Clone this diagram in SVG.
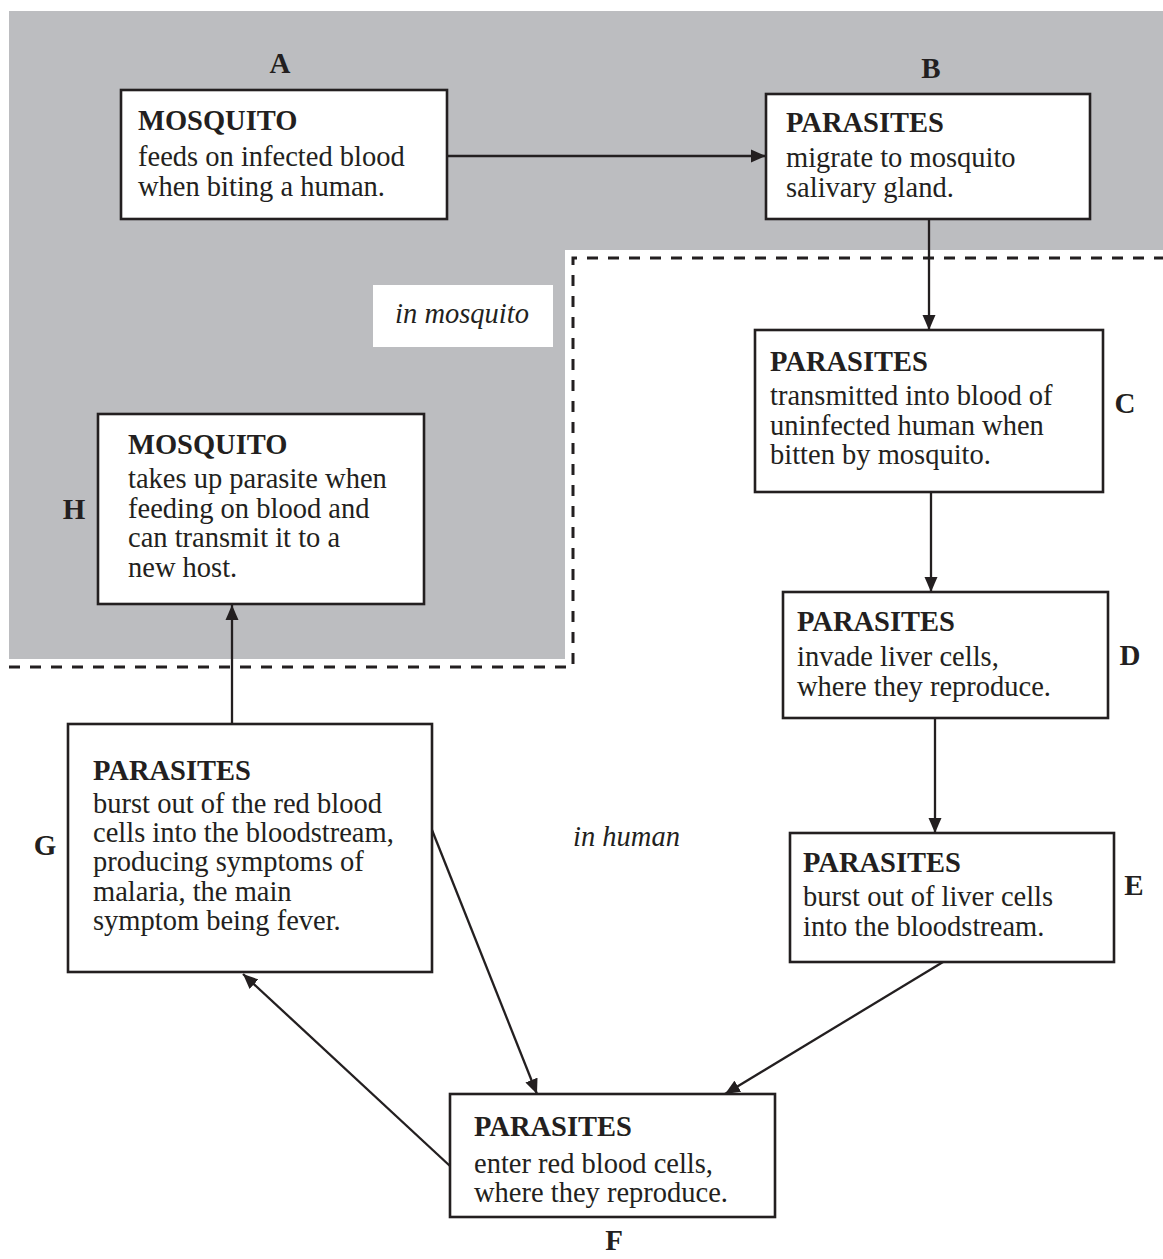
<svg xmlns="http://www.w3.org/2000/svg" width="1163" height="1259" viewBox="0 0 1163 1259">
<defs>
<marker id="arr" markerUnits="userSpaceOnUse" markerWidth="16" markerHeight="14" viewBox="0 0 16 14" refX="15" refY="7" orient="auto">
<path d="M0,0.5 L15,7 L0,13.5 Z" fill="#231f20"/>
</marker>
<style>
.box{fill:#fff;stroke:#231f20;stroke-width:2.6}
.t{font-family:"Liberation Serif","Times New Roman",serif;font-size:28.5px;fill:#231f20}
.b{font-weight:bold}
.i{font-style:italic}
.lab{font-family:"Liberation Serif","Times New Roman",serif;font-size:29px;font-weight:bold;fill:#231f20;text-anchor:middle}
.con{stroke:#231f20;stroke-width:2.3;fill:none;marker-end:url(#arr)}
.dash{stroke:#231f20;stroke-width:3;fill:none;stroke-dasharray:11 10}
</style>
</defs>
<rect width="1163" height="1259" fill="#fff"/>
<g id="regions">
<path d="M9,11 H1163 V250 H565 V659 H9 Z" fill="#bcbdc0"/>
<path class="dash" d="M9,667 H573 V258 H1163"/>
<rect x="373" y="285" width="180" height="62" fill="#fff"/>
<text class="t i" x="462" y="323" text-anchor="middle">in mosquito</text>
<text class="t i" x="573" y="846">in human</text>
</g>
<g id="connectors">
<line class="con" x1="447" y1="156" x2="766" y2="156"/>
<line class="con" x1="929" y1="219" x2="929" y2="330"/>
<line class="con" x1="931" y1="492" x2="931" y2="592"/>
<line class="con" x1="935" y1="718" x2="935" y2="833"/>
<line class="con" x1="943" y1="962" x2="725" y2="1094"/>
<line class="con" x1="432" y1="830" x2="537" y2="1094"/>
<line class="con" x1="450" y1="1166" x2="243" y2="974"/>
<line class="con" x1="232" y1="724" x2="232" y2="605"/>
</g>
<g id="nodeA">
<rect class="box" x="121" y="90" width="326" height="129"/>
<text class="t b" x="138" y="130">MOSQUITO</text>
<text class="t" x="138" y="166">feeds on infected blood</text>
<text class="t" x="138" y="195.5">when biting a human.</text>
<text class="lab" x="280" y="73">A</text>
</g>
<g id="nodeB">
<rect class="box" x="766" y="94" width="324" height="125"/>
<text class="t b" x="786" y="132">PARASITES</text>
<text class="t" x="786" y="167">migrate to mosquito</text>
<text class="t" x="786" y="196.5">salivary gland.</text>
<text class="lab" x="931" y="78">B</text>
</g>
<g id="nodeC">
<rect class="box" x="755" y="330" width="348" height="162"/>
<text class="t b" x="770" y="371">PARASITES</text>
<text class="t" x="770" y="405">transmitted into blood of</text>
<text class="t" x="770" y="434.5">uninfected human when</text>
<text class="t" x="770" y="464">bitten by mosquito.</text>
<text class="lab" x="1125" y="413">C</text>
</g>
<g id="nodeD">
<rect class="box" x="783" y="592" width="325" height="126"/>
<text class="t b" x="797" y="631">PARASITES</text>
<text class="t" x="797" y="666">invade liver cells,</text>
<text class="t" x="797" y="695.5">where they reproduce.</text>
<text class="lab" x="1130" y="665">D</text>
</g>
<g id="nodeE">
<rect class="box" x="790" y="833" width="324" height="129"/>
<text class="t b" x="803" y="872">PARASITES</text>
<text class="t" x="803" y="906">burst out of liver cells</text>
<text class="t" x="803" y="935.5">into the bloodstream.</text>
<text class="lab" x="1134" y="895">E</text>
</g>
<g id="nodeF">
<rect class="box" x="450" y="1094" width="325" height="123"/>
<text class="t b" x="474" y="1136">PARASITES</text>
<text class="t" x="474" y="1172.5">enter red blood cells,</text>
<text class="t" x="474" y="1202">where they reproduce.</text>
<text class="lab" x="614" y="1250">F</text>
</g>
<g id="nodeG">
<rect class="box" x="68" y="724" width="364" height="248"/>
<text class="t b" x="93" y="780">PARASITES</text>
<text class="t" x="93" y="813">burst out of the red blood</text>
<text class="t" x="93" y="842">cells into the bloodstream,</text>
<text class="t" x="93" y="871">producing symptoms of</text>
<text class="t" x="93" y="900.5">malaria, the main</text>
<text class="t" x="93" y="930">symptom being fever.</text>
<text class="lab" x="45" y="855">G</text>
</g>
<g id="nodeH">
<rect class="box" x="98" y="414" width="326" height="190"/>
<text class="t b" x="128" y="454">MOSQUITO</text>
<text class="t" x="128" y="488">takes up parasite when</text>
<text class="t" x="128" y="517.5">feeding on blood and</text>
<text class="t" x="128" y="547">can transmit it to a</text>
<text class="t" x="128" y="576.5">new host.</text>
<text class="lab" x="74" y="519">H</text>
</g>
</svg>
